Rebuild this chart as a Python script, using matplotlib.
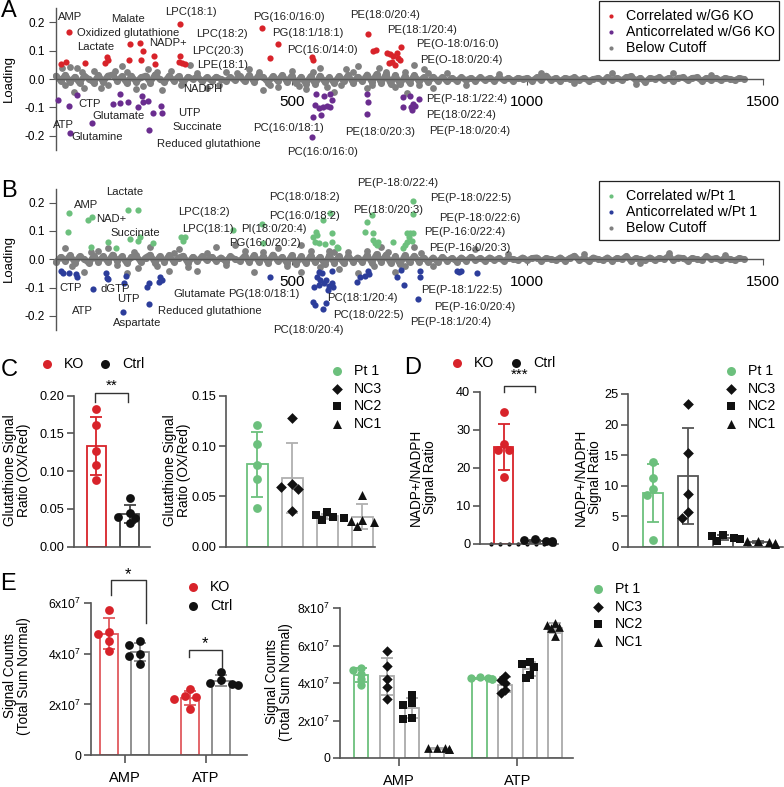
import numpy as np
import matplotlib
matplotlib.use("Agg")
import matplotlib.pyplot as plt
from matplotlib.patches import Rectangle
from matplotlib.ticker import FuncFormatter

plt.rcParams["font.family"] = "Liberation Sans"
plt.rcParams["mathtext.fontset"] = "custom"
plt.rcParams["mathtext.rm"] = "Liberation Sans"
plt.rcParams["mathtext.it"] = "Liberation Sans:italic"
plt.rcParams["axes.unicode_minus"] = False

W, H = 784, 787

RED = "#d8232a"
RED_LIGHT = "#e0595e"
PURPLE = "#6a2d8f"
GREEN = "#6cc07d"
BLUE = "#2c3d9b"
GREY = "#808080"
AXIS = "#555555"

# ---------------- loadings (A, B) ----------------
# below-cutoff loadings, one value every 10 variables
A_GREY = [
    0.012, -0.006, 0.015, -0.01, 0.008, -0.014, 0.012, 0.0, -0.012, 0.014,
    -0.01, 0.012, 0.016, -0.006, 0.01, -0.014, 0.012, -0.01, 0.006, 0.012,
    -0.012, 0.016, 0.0, -0.01, 0.012, -0.006, 0.01, -0.012, 0.008, 0.0,
    0.01, -0.008, 0.006, -0.006, 0.008, 0.0, -0.006, 0.006, -0.004, 0.01,
    -0.008, 0.014, -0.01, 0.015, 0.006, -0.012, 0.01, -0.006, 0.014, -0.01,
    0.012, -0.014, 0.008, -0.016, 0.01, -0.018, 0.012, -0.01, 0.006, -0.014,
    0.01, -0.006, 0.014, -0.012, 0.008, -0.008, 0.016, -0.01, 0.018, -0.014,
    0.018, -0.016, 0.014, -0.018, 0.01, -0.012, 0.014, -0.008, 0.006, -0.01,
    0.008, -0.006, 0.006, -0.008, 0.004, -0.006, 0.006, -0.004, 0.004, -0.006,
    0.006, -0.004, 0.004, -0.006, 0.006, -0.004, 0.004, -0.006, 0.004, 0.0,
    0.004, -0.006, 0.006, -0.004, 0.012, -0.004, 0.004, -0.006, 0.004, 0.0,
    0.006, -0.004, 0.004, -0.006, 0.0, 0.004, -0.006, 0.006, -0.004, 0.004,
    -0.004, 0.006, 0.01, -0.004, 0.004, -0.01, 0.004, 0.0, 0.006, -0.004,
    0.004, -0.006, 0.004, 0.006, -0.004, 0.004, 0.006, -0.006, 0.004, -0.004,
    0.004, -0.004, 0.004, 0.0, -0.004, 0.004, 0.0,
]
A_GREY_OUT = [
    (12, 0.039), (30, 0.042), (45, 0.038), (38, -0.044), (60, -0.03), (80, 0.028),
    (95, -0.03), (125, 0.03), (140, 0.045), (170, -0.035), (195, 0.035), (225, -0.04),
    (245, 0.03), (285, 0.05), (320, -0.03), (360, 0.025), (410, 0.035), (440, -0.04),
    (470, -0.028), (500, 0.03), (530, -0.035), (560, 0.04), (590, -0.045), (615, 0.035),
    (640, 0.045), (660, -0.03), (685, 0.04), (745, -0.05), (760, 0.05), (780, 0.035),
    (800, -0.03), (830, 0.02), (870, -0.02), (940, 0.018), (1030, 0.022), (1100, -0.015),
    (1180, 0.02), (1230, -0.018), (1310, 0.022), (1390, 0.015),
    (20, -0.022), (55, 0.024), (110, -0.022), (150, 0.025), (185, -0.024), (215, 0.026),
    (265, -0.022), (300, 0.022), (345, -0.02), (385, 0.02), (430, 0.024), (455, -0.022),
    (515, -0.024), (545, 0.026), (575, -0.026), (605, -0.022), (630, 0.024), (670, -0.022),
    (700, 0.026), (720, -0.026), (740, 0.024), (770, -0.022), (790, 0.02),
]
A_POS = [
    (11, 0.054), (21, 0.060), (28, 0.168), (62, 0.056), (105, 0.056), (108, 0.078),
    (110, 0.066), (154, 0.067), (156, 0.125), (178, 0.129), (185, 0.100), (180, 0.067),
    (208, 0.082), (210, 0.055), (263, 0.195), (264, 0.082), (262, 0.061), (267, 0.058),
    (273, 0.055), (436, 0.182), (470, 0.125), (454, 0.074), (543, 0.078), (546, 0.067),
    (661, 0.159), (672, 0.098), (678, 0.104), (702, 0.094), (709, 0.088), (716, 0.080),
    (723, 0.092), (733, 0.115), (729, 0.068), (712, 0.062), (706, 0.057), (719, 0.051),
    (726, 0.074),
]
A_NEG = [
    (4, -0.073), (28, -0.094), (44, -0.055), (77, -0.156), (30, -0.189), (120, -0.087),
    (136, -0.052), (136, -0.085), (152, -0.079), (173, -0.099), (182, -0.061), (184, -0.079),
    (196, -0.076), (206, -0.118), (222, -0.094), (224, -0.120), (197, -0.179), (552, -0.053),
    (569, -0.061), (581, -0.053), (585, -0.073), (550, -0.091), (557, -0.103), (567, -0.097),
    (576, -0.094), (581, -0.099), (545, -0.132), (562, -0.126), (543, -0.203), (659, -0.053),
    (661, -0.079), (659, -0.123), (737, -0.064), (750, -0.059), (771, -0.070), (737, -0.099),
    (755, -0.108), (762, -0.094), (758, -0.087), (753, -0.099),
]
A_LABELS = [
    ("AMP", 5, 0.221), ("Malate", 117, 0.212), ("LPC(18:1)", 231, 0.237),
    ("Oxidized glutathione", 45, 0.163), ("Lactate", 45, 0.115), ("NADP+", 197, 0.127),
    ("LPC(18:2)", 298, 0.159), ("LPC(20:3)", 289, 0.100), ("LPE(18:1)", 300, 0.051),
    ("PG(16:0/16:0)", 419, 0.221), ("PG(18:1/18:1)", 459, 0.163),
    ("PC(16:0/14:0)", 490, 0.104), ("PE(18:0/20:4)", 624, 0.227),
    ("PE(18:1/20:4)", 703, 0.174), ("PE(O-18:0/16:0)", 765, 0.124),
    ("PE(O-18:0/20:4)", 772, 0.068),
    ("CTP", 47, -0.087), ("Glutamate", 78, -0.129), ("ATP", -7, -0.161),
    ("Glutamine", 33, -0.203), ("NADPH", 270, -0.035), ("UTP", 260, -0.118),
    ("Succinate", 247, -0.170), ("Reduced glutathione", 215, -0.229),
    ("PC(16:0/18:1)", 419, -0.173), ("PC(16:0/16:0)", 490, -0.256),
    ("PE(18:0/20:3)", 613, -0.185), ("PE(P-18:1/22:4)", 785, -0.071),
    ("PE(18:0/22:4)", 785, -0.126), ("PE(P-18:0/20:4)", 792, -0.183),
]

B_GREY = [
    -0.01, 0.008, -0.006, 0.014, -0.012, 0.01, 0.0, -0.014, 0.012, -0.008,
    0.01, -0.01, 0.016, -0.006, 0.01, -0.014, 0.008, 0.014, -0.01, 0.006,
    0.016, -0.012, 0.01, -0.008, 0.014, -0.01, 0.006, 0.012, -0.014, 0.008,
    -0.006, 0.01, -0.004, 0.008, -0.006, 0.006, -0.008, 0.01, 0.0, -0.006,
    0.012, -0.01, 0.014, -0.008, 0.01, -0.012, 0.016, -0.006, 0.008, -0.014,
    0.014, -0.016, 0.01, -0.014, 0.012, -0.01, 0.008, -0.018, 0.014, -0.012,
    0.01, -0.014, 0.012, -0.008, 0.006, -0.01, 0.014, -0.012, 0.018, -0.01,
    0.016, -0.014, 0.01, -0.018, 0.014, -0.01, 0.012, -0.008, 0.006, -0.01,
    0.006, -0.01, 0.008, -0.006, 0.004, -0.008, 0.006, -0.006, 0.008, -0.004,
    0.004, -0.006, 0.006, -0.004, 0.004, -0.006, 0.004, 0.0, -0.004, 0.006,
    -0.004, 0.004, 0.006, -0.006, 0.004, 0.0, -0.004, 0.006, -0.006, 0.004,
    0.012, -0.004, 0.004, -0.006, 0.006, 0.0, -0.004, 0.006, -0.006, 0.004,
    0.0, 0.01, -0.006, 0.004, 0.0, -0.004, 0.006, -0.004, 0.004, 0.0,
    0.012, -0.004, 0.006, 0.004, -0.006, 0.004, 0.0, -0.004, 0.01, 0.0,
    0.004, -0.004, 0.006, 0.0, -0.004, 0.004, 0.0,
]
B_GREY_OUT = [
    (20, 0.038), (60, -0.045), (110, 0.04), (150, -0.05), (200, 0.045), (240, -0.04),
    (260, 0.035), (300, -0.04), (340, 0.045), (380, 0.05), (420, -0.045), (470, 0.04),
    (520, -0.045), (540, 0.03), (600, -0.035), (640, -0.05), (690, 0.045), (720, -0.045),
    (760, 0.045), (888, 0.035), (520, 0.05), (90, 0.03), (175, -0.03), (280, -0.028),
    (400, 0.03), (580, 0.028), (660, 0.03), (800, -0.025), (960, 0.018), (1120, 0.02),
    (1240, -0.015), (1300, 0.022), (1420, 0.015),
    (35, -0.024), (75, 0.024), (130, -0.022), (165, 0.026), (215, -0.024), (250, 0.022),
    (320, 0.022), (360, -0.022), (440, 0.024), (490, -0.024), (560, -0.026), (590, 0.024),
    (620, 0.026), (675, -0.024), (705, 0.024), (740, -0.024), (775, 0.022),
]
B_POS = [
    (28, 0.162), (26, 0.095), (67, 0.139), (76, 0.148), (74, 0.045), (111, 0.060),
    (127, 0.041), (153, 0.174), (175, 0.174), (157, 0.071), (175, 0.065), (178, 0.080),
    (206, 0.057), (265, 0.078), (269, 0.065), (274, 0.080), (375, 0.104), (436, 0.124),
    (440, 0.057), (581, 0.162), (566, 0.139), (551, 0.098), (553, 0.086), (585, 0.092),
    (550, 0.062), (557, 0.057), (571, 0.054), (585, 0.062), (596, 0.045), (599, 0.039),
    (546, 0.080), (659, 0.133), (670, 0.157), (656, 0.098), (673, 0.092), (672, 0.068),
    (677, 0.057), (680, 0.051), (684, 0.062), (716, 0.062), (744, 0.092), (751, 0.092),
    (758, 0.094), (748, 0.080), (744, 0.062), (741, 0.051), (737, 0.039), (755, 0.065),
    (757, 0.207), (758, 0.159),
]
B_NEG = [
    (11, -0.040), (14, -0.047), (28, -0.050), (42, -0.053), (44, -0.061), (78, -0.104),
    (107, -0.050), (109, -0.065), (111, -0.070), (143, -0.185), (149, -0.058), (144, -0.083),
    (198, -0.083), (194, -0.099), (221, -0.061), (224, -0.073), (219, -0.081), (198, -0.159),
    (455, -0.061), (557, -0.044), (564, -0.050), (585, -0.040), (554, -0.061), (561, -0.073),
    (573, -0.073), (585, -0.085), (580, -0.094), (547, -0.097), (557, -0.091), (568, -0.085),
    (578, -0.108), (588, -0.097), (546, -0.150), (550, -0.161), (566, -0.177), (573, -0.153),
    (638, -0.079), (645, -0.061), (656, -0.058), (665, -0.052), (663, -0.040), (723, -0.061),
    (733, -0.038), (738, -0.091), (769, -0.140), (772, -0.040), (772, -0.061), (850, -0.040),
    (855, -0.044), (859, -0.041), (893, -0.047),
]
B_LABELS = [
    ("Lactate", 106, 0.237), ("AMP", 38, 0.192), ("NAD+", 86, 0.142),
    ("Succinate", 115, 0.094), ("LPC(18:2)", 260, 0.166), ("LPC(18:1)", 267, 0.107),
    ("PI(18:0/20:4)", 392, 0.107), ("PG(16:0/20:2)", 368, 0.059),
    ("PC(18:0/18:2)", 453, 0.221), ("PC(16:0/18:2)", 453, 0.153),
    ("PE(P-18:0/22:4)", 638, 0.269), ("PE(18:0/20:3)", 630, 0.174),
    ("PE(P-18:0/22:5)", 794, 0.215), ("PE(P-18:0/22:6)", 813, 0.145),
    ("PE(P-16:0/22:4)", 782, 0.095), ("PE(P-16:0/20:3)", 791, 0.041),
    ("CTP", 8, -0.100), ("dGTP", 95, -0.105), ("UTP", 129, -0.141), ("ATP", 33, -0.183),
    ("Aspartate", 120, -0.224), ("Reduced glutathione", 216, -0.183),
    ("Glutamate", 250, -0.123), ("PG(18:0/18:1)", 366, -0.123),
    ("PC(18:1/20:4)", 576, -0.138), ("PC(18:0/22:5)", 588, -0.197),
    ("PC(18:0/20:4)", 460, -0.250), ("PE(P-18:1/22:5)", 775, -0.108),
    ("PE(P-16:0/20:4)", 803, -0.167), ("PE(P-18:1/20:4)", 751, -0.220),
]

# ---------------- C: glutathione OX/Red ----------------
C_KO = [0.182, 0.161, 0.127, 0.108, 0.088]
C_CTRL = [0.064, 0.044, 0.040, 0.038, 0.031]
C_PT1 = [0.121, 0.102, 0.081, 0.067, 0.038]
C_NC3 = [0.128, 0.062, 0.059, 0.057, 0.035]
C_NC2 = [0.034, 0.031, 0.030, 0.029, 0.027]
C_NC1 = [0.051, 0.027, 0.026, 0.025, 0.021]

# ---------------- D: NADP+/NADPH ----------------
D_KO = [34.6, 26.3, 24.8, 24.6, 17.6]
D_CTRL = [1.3, 1.0, 0.9, 0.7, 0.6]
D_PT1 = [13.8, 11.3, 9.4, 8.5, 1.1]
D_NC3 = [23.4, 15.4, 8.7, 5.7, 4.7]
D_NC2 = [1.9, 1.7, 1.5, 1.2, 0.9]
D_NC1 = [1.0, 0.9, 0.7, 0.6, 0.5]

# ---------------- E: AMP / ATP signal counts ----------------
E_CATS = ["AMP", "ATP"]
E_KO = {"AMP": [5.75e7, 4.85e7, 4.8e7, 4.5e7, 4.1e7],
        "ATP": [2.6e7, 2.35e7, 2.3e7, 2.2e7, 1.8e7]}
E_CTRL = {"AMP": [4.5e7, 4.35e7, 4.0e7, 3.9e7, 3.6e7],
          "ATP": [3.3e7, 2.95e7, 2.85e7, 2.8e7, 2.78e7]}
E_PT1 = {"AMP": [4.8e7, 4.7e7, 4.5e7, 4.2e7, 3.9e7],
         "ATP": [4.3e7, 4.28e7, 4.25e7, 4.22e7, 4.2e7]}
E_NC3 = {"AMP": [5.72e7, 4.91e7, 4.2e7, 3.8e7, 3.17e7],
         "ATP": [4.37e7, 4.16e7, 3.98e7, 3.63e7, 3.45e7]}
E_NC2 = {"AMP": [3.36e7, 2.92e7, 2.83e7, 2.14e7, 2.1e7],
         "ATP": [5.14e7, 5.01e7, 4.87e7, 4.43e7, 4.25e7]}
E_NC1 = {"AMP": [0.56e7, 0.54e7, 0.52e7, 0.5e7, 0.48e7],
         "ATP": [7.18e7, 7.12e7, 7.0e7, 6.96e7, 6.5e7]}

fig = plt.figure(figsize=(W / 100, H / 100), dpi=100)


def add_ax(l, t, r, b):
    return fig.add_axes([l / W, 1 - b / H, (r - l) / W, (b - t) / H])


def loading_panel(rect, grey, grey_out, pos, pos_c, neg, neg_c, labels):
    ax = add_ax(*rect)
    ax.set_xlim(0, 1500)
    ax.set_ylim(-0.25, 0.25)
    gx = np.arange(len(grey)) * 10
    # dense run of below-cutoff points: joined so the band reads as continuous
    ax.plot(gx, grey, color=GREY, lw=4.4, solid_capstyle="round", zorder=2, clip_on=False)
    ax.scatter(gx, grey, s=26, color=GREY, lw=0, zorder=2, clip_on=False)
    ox, oy = zip(*grey_out)
    ax.scatter(ox, oy, s=24, color=GREY, lw=0, zorder=2, clip_on=False)
    px, py = zip(*pos)
    ax.scatter(px, py, s=20, color=pos_c, lw=0, zorder=3, clip_on=False)
    nx, ny = zip(*neg)
    ax.scatter(nx, ny, s=20, color=neg_c, lw=0, zorder=3, clip_on=False)
    for name, x, y in labels:
        ax.text(x, y, name, fontsize=8.1, va="center", ha="left", color="#222222",
                zorder=4, clip_on=False)
    for s in ("top", "right"):
        ax.spines[s].set_visible(False)
    ax.spines["bottom"].set_position(("data", 0))
    for s in ("left", "bottom"):
        ax.spines[s].set_color(AXIS)
        ax.spines[s].set_linewidth(1.0)
    ax.set_xticks([500, 1000, 1500])
    ax.set_yticks([-0.2, -0.1, 0, 0.1, 0.2])
    ax.set_yticklabels(["-0.2", "-0.1", "0.0", "0.1", "0.2"])
    ax.tick_params(axis="x", labelsize=11, length=4.5, pad=7, color=AXIS)
    ax.tick_params(axis="y", labelsize=8.5, length=5, pad=3, color=AXIS)
    ax.set_zorder(2)
    ax.patch.set_alpha(0)
    return ax


def swarm(ax, x0, vals, diam):
    fwd = ax.transData.transform
    inv = ax.transData.inverted().transform
    cx = fwd((x0, 0))[0]
    placed, out = [], []
    for v in vals:
        py = fwd((x0, v))[1]
        for k in (0, -1, 1, -2, 2, -3, 3):
            px = cx + k * diam * 0.7
            if all((px - a) ** 2 + (py - b) ** 2 >= (diam * 0.85) ** 2 for a, b in placed):
                break
        placed.append((px, py))
        out.append(inv((px, py))[0])
    return out


def bar_group(ax, x, vals, edge, marker, mcol, width, s=40, diam=8, lw=1.3):
    vals = np.asarray(vals, dtype=float)
    m, sd = vals.mean(), vals.std(ddof=1)
    ax.bar(x, m, width, facecolor="white", edgecolor=edge, lw=lw, zorder=1)
    ax.errorbar(x, m, yerr=sd, fmt="none", ecolor=edge, elinewidth=lw,
                capsize=4.5, capthick=lw, zorder=2)
    xs = swarm(ax, x, vals, diam)
    ax.scatter(xs, vals, marker=marker, s=s, color=mcol, lw=0, zorder=3, clip_on=False)


def bar_axes(rect, xlim, ylim, yticks, fmt=None, fs=9.2):
    ax = add_ax(*rect)
    ax.set_xlim(*xlim)
    ax.set_ylim(*ylim)
    for s in ("top", "right"):
        ax.spines[s].set_visible(False)
    for s in ("left", "bottom"):
        ax.spines[s].set_color(AXIS)
        ax.spines[s].set_linewidth(1.2)
    ax.set_yticks(yticks)
    if fmt is not None:
        ax.yaxis.set_major_formatter(fmt)
    ax.set_xticks([])
    ax.tick_params(axis="y", labelsize=fs, length=5, width=1.2, color=AXIS, pad=2)
    ax.patch.set_alpha(0)
    return ax


def bracket(ax, x1, x2, top, y1, y2, stars, star_y, fs=11):
    ax.plot([x1, x1, x2, x2], [y1, top, top, y2], color="#333333", lw=1.0,
            clip_on=False, zorder=4)
    ax.text((x1 + x2) / 2, star_y, stars, ha="center", va="center", fontsize=fs,
            clip_on=False)


# ---- A & B ----
axA = loading_panel((56, 8.3, 763, 150), A_GREY, A_GREY_OUT, A_POS, RED, A_NEG, PURPLE,
                    A_LABELS)
axB = loading_panel((56, 188.5, 763, 330.0), B_GREY, B_GREY_OUT, B_POS, GREEN, B_NEG, BLUE,
                    B_LABELS)

# ---- C ----
fmt2 = FuncFormatter(lambda v, _: "%.2f" % v)
axC1 = bar_axes((74, 395.7, 150, 546.7), (-0.68, 1.62), (0, 0.2),
                [0, 0.05, 0.10, 0.15, 0.20], fmt2)
bar_group(axC1, 0, C_KO, RED, "o", RED, 0.58)
bar_group(axC1, 1, C_CTRL, "#444444", "o", "#111111", 0.58)
bracket(axC1, -0.05, 0.95, 0.203, 0.192, 0.192, "**", 0.213)

axC2 = bar_axes((226, 395.7, 375, 546.7), (-0.9, 3.36), (0, 0.15),
                [0, 0.05, 0.10, 0.15], fmt2)
bar_group(axC2, 0, C_PT1, GREEN, "o", GREEN, 0.6)
bar_group(axC2, 1, C_NC3, "#b0b0b0", "D", "#111111", 0.6, s=30)
bar_group(axC2, 2, C_NC2, "#b0b0b0", "s", "#111111", 0.6, s=38)
bar_group(axC2, 3, C_NC1, "#b0b0b0", "^", "#111111", 0.6, s=42)

# ---- D ----
fmt0 = FuncFormatter(lambda v, _: "%d" % v)
axD1 = bar_axes((480, 391.7, 558, 544), (-0.75, 1.73), (0, 40), [0, 10, 20, 30, 40], fmt0)
bar_group(axD1, 0, D_KO, RED, "o", RED, 0.6)
bar_group(axD1, 1, D_CTRL, "#444444", "o", "#111111", 0.6)
bracket(axD1, 0, 1, 41.6, 40, 40, "***", 44.5)
axD1.set_xticks([-0.4, -0.12, 0.17, 0.45, 0.73, 1.02, 1.3, 1.6])
axD1.tick_params(axis="x", length=0, labelbottom=False)
for t in axD1.xaxis.get_major_ticks():
    t.tick1line.set_marker("o")
    t.tick1line.set_markersize(2.2)
    t.tick1line.set_color("#222222")

axD2 = bar_axes((628, 394, 783, 546.7), (-0.71, 3.71), (0, 25), [0, 5, 10, 15, 20, 25], fmt0)
bar_group(axD2, 0, D_PT1, GREEN, "o", GREEN, 0.57)
bar_group(axD2, 1, D_NC3, "#555555", "D", "#111111", 0.57, s=30)
bar_group(axD2, 2, D_NC2, "#555555", "s", "#111111", 0.57, s=38)
bar_group(axD2, 3, D_NC1, "#555555", "^", "#111111", 0.57, s=42)

# ---- E ----
sci = FuncFormatter(lambda v, _: "0" if v == 0 else r"%dx10$^{7}$" % round(v / 1e7))
axE1 = bar_axes((90.7, 603.3, 247, 755), (-0.42, 1.51), (0, 6e7),
                [0, 2e7, 4e7, 6e7], sci, fs=8.8)
for i, cat in enumerate(E_CATS):
    bar_group(axE1, i - 0.19, E_KO[cat], RED_LIGHT, "o", RED, 0.22)
    bar_group(axE1, i + 0.19, E_CTRL[cat], "#888888", "o", "#111111", 0.22)
bracket(axE1, -0.17, 0.26, 6.92e7, 6.32e7, 5.22e7, "*", 7.15e7, fs=12)
bracket(axE1, 0.79, 1.2, 4.15e7, 3.87e7, 3.44e7, "*", 4.4e7, fs=12)

axE2 = bar_axes((340, 608, 573, 758), (-0.5, 1.47), (0, 8e7),
                [0, 2e7, 4e7, 6e7, 8e7], sci, fs=8.8)
offs = [-0.32, -0.106, 0.106, 0.318]
styles = [(E_PT1, GREEN, "o", GREEN, 36), (E_NC3, "#aaaaaa", "D", "#111111", 28),
          (E_NC2, "#aaaaaa", "s", "#111111", 36), (E_NC1, "#aaaaaa", "^", "#111111", 40)]
for i, cat in enumerate(E_CATS):
    for off, (d, ec, mk, mc, s) in zip(offs, styles):
        bar_group(axE2, i + off, d[cat], ec, mk, mc, 0.12, s=s, diam=6)

for ax in (axE1, axE2):
    ax.set_xticks(range(len(E_CATS)))
    ax.set_xticklabels(E_CATS)
    ax.tick_params(axis="x", length=6, width=1.2, color=AXIS, labelsize=10.5, pad=5.5)

# ---------------- overlay: letters, legends, axis titles ----------------
ov = fig.add_axes([0, 0, 1, 1])
ov.set_xlim(0, W)
ov.set_ylim(H, 0)
ov.axis("off")

for letter, x, y in [("A", 9, 11), ("B", 9, 191), ("C", 9, 370), ("D", 413, 368), ("E", 8, 584)]:
    ov.text(x, y, letter, fontsize=17, ha="center", va="center")


def box_legend(top, entries):
    ov.add_patch(Rectangle((599, top), 180, 59, fill=False, edgecolor="#222222", lw=0.9))
    for k, (lab, col) in enumerate(entries):
        y = top + 14.5 + 16.3 * k
        ov.scatter([611], [y], s=9, color=col, lw=0)
        ov.text(626, y, lab, fontsize=10.2, va="center", ha="left")


box_legend(1, [("Correlated w/G6 KO", RED), ("Anticorrelated w/G6 KO", PURPLE),
               ("Below Cutoff", GREY)])
box_legend(181, [("Correlated w/Pt 1", GREEN), ("Anticorrelated w/Pt 1", BLUE),
                 ("Below Cutoff", GREY)])


def entry(x, y, marker, col, lab, s=42, dx=17):
    ov.scatter([x], [y], marker=marker, s=s, color=col, lw=0)
    ov.text(x + dx, y, lab, fontsize=10.2, va="center", ha="left")


entry(47, 364, "o", RED, "KO")
entry(105, 364, "o", "#111111", "Ctrl")
entry(457, 363, "o", RED, "KO")
entry(516, 363, "o", "#111111", "Ctrl")
entry(193, 587, "o", RED, "KO")
entry(193, 606, "o", "#111111", "Ctrl")

for (x0, y0) in [(337, 371), (731, 371), (598, 589)]:
    step = 17.7
    entry(x0, y0, "o", GREEN, "Pt 1")
    entry(x0, y0 + step, "D", "#111111", "NC3", s=30)
    entry(x0, y0 + 2 * step, "s", "#111111", "NC2", s=38)
    entry(x0, y0 + 3 * step, "^", "#111111", "NC1", s=42)

for lab, x, y, fs in [("Loading", 9, 79, 9.5), ("Loading", 9, 259, 9.5),
                      ("Glutathione Signal\nRatio (OX/Red)", 17, 470, 9.8),
                      ("Glutathione Signal\nRatio (OX/Red)", 177, 470, 9.8),
                      ("NADP+/NADPH\nSignal Ratio", 423, 477, 9.8),
                      ("NADP+/NADPH\nSignal Ratio", 588, 477, 9.8),
                      ("Signal Counts\n(Total Sum Normal)", 17, 676, 9.8),
                      ("Signal Counts\n(Total Sum Normal)", 279, 682, 9.8)]:
    ov.text(x, y, lab, rotation=90, ha="center", va="center", fontsize=fs,
            multialignment="center", linespacing=1.0)

fig.savefig("out.png", dpi=100)
